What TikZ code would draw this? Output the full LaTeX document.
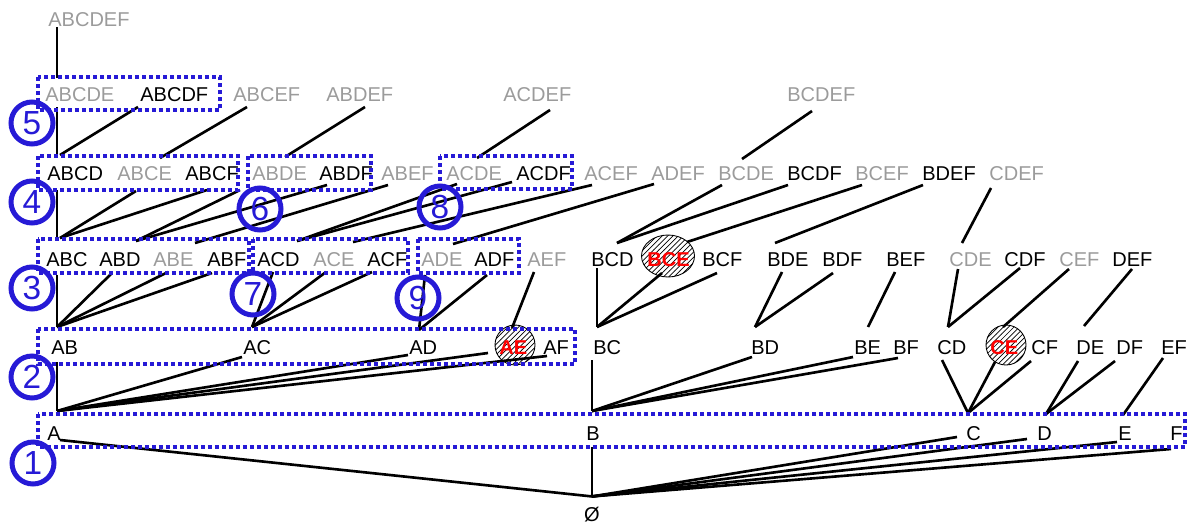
\documentclass[tikz,border=0pt]{standalone}
\usepackage{fontspec}
\setmainfont{Liberation Sans}
\usepackage{tikz}
\usetikzlibrary{calc}
\usetikzlibrary{patterns}
\usetikzlibrary{shapes.geometric}
\definecolor{boxColor}{RGB}{38,26,214}
\definecolor{prunedColor}{RGB}{155,155,155}
\definecolor{flagColor}{RGB}{255,0,0}

\begin{document}
\begin{tikzpicture}[x=0.02cm, y=-0.02cm]

            \tikzstyle{itemNode} = [anchor=west, inner sep=0pt, text height=8.2pt, text depth=0pt, font=\fontsize{11.4}{13}\selectfont];
            \tikzstyle{prunedNode} = [itemNode, prunedColor];
            \tikzstyle{flaggedNode} = [itemNode, flagColor, font=\fontsize{11.4}{13}\selectfont\bfseries];
            \tikzstyle{hatchMark} = [draw, line width=0.5pt, pattern=north east lines, inner sep=0pt];
            \tikzstyle{normalEdge} = [line width=1.5pt];
            \tikzstyle{groupBox} = [boxColor, line width=0.08cm, dash pattern=on 0.08cm off 0.06cm];
            \tikzstyle{stepCircle} = [shape=circle, draw=boxColor, line width=0.1cm, minimum size=0.84cm, inner sep=0pt, text=boxColor, font=\fontsize{19}{20}\selectfont];

            \useasboundingbox (0,0) rectangle (1192,524);

            % marks behind the flagged sets
            \node[hatchMark, ellipse, minimum width=1.06cm, minimum height=0.84cm] (BCEmark) at (668,256) {};
            \node[hatchMark, circle, minimum size=0.8cm] (AEmark) at (515,345) {};
            \node[hatchMark, circle, minimum size=0.8cm] (CEmark) at (1006,345) {};

            \node[prunedNode] (ABCDEF) at (48,19) {ABCDEF};

            \node[prunedNode] (ABCDE) at (45,94) {ABCDE};
            \node[itemNode] (ABCDF) at (140,94) {ABCDF};
            \node[prunedNode] (ABCEF) at (233,94) {ABCEF};
            \node[prunedNode] (ABDEF) at (326,94) {ABDEF};
            \node[prunedNode] (ACDEF) at (503,94) {ACDEF};
            \node[prunedNode] (BCDEF) at (787,94) {BCDEF};

            \node[itemNode] (ABCD) at (47,173) {ABCD};
            \node[prunedNode] (ABCE) at (117,173) {ABCE};
            \node[itemNode] (ABCF) at (185,173) {ABCF};
            \node[prunedNode] (ABDE) at (252,173) {ABDE};
            \node[itemNode] (ABDF) at (319,173) {ABDF};
            \node[prunedNode] (ABEF) at (381,173) {ABEF};
            \node[prunedNode] (ACDE) at (446,173) {ACDE};
            \node[itemNode] (ACDF) at (516,173) {ACDF};
            \node[prunedNode] (ACEF) at (584,173) {ACEF};
            \node[prunedNode] (ADEF) at (651,173) {ADEF};
            \node[prunedNode] (BCDE) at (718,173) {BCDE};
            \node[itemNode] (BCDF) at (787,173) {BCDF};
            \node[prunedNode] (BCEF) at (855,173) {BCEF};
            \node[itemNode] (BDEF) at (922,173) {BDEF};
            \node[prunedNode] (CDEF) at (989,173) {CDEF};

            \node[itemNode] (ABC) at (46,259) {ABC};
            \node[itemNode] (ABD) at (99,259) {ABD};
            \node[prunedNode] (ABE) at (153,259) {ABE};
            \node[itemNode] (ABF) at (207,259) {ABF};
            \node[itemNode] (ACD) at (257,259) {ACD};
            \node[prunedNode] (ACE) at (313,259) {ACE};
            \node[itemNode] (ACF) at (367,259) {ACF};
            \node[prunedNode] (ADE) at (421,259) {ADE};
            \node[itemNode] (ADF) at (474,259) {ADF};
            \node[prunedNode] (AEF) at (527,259) {AEF};
            \node[itemNode] (BCD) at (591,259) {BCD};
            \node[flaggedNode] (BCE) at (647,259) {BCE};
            \node[itemNode] (BCF) at (702,259) {BCF};
            \node[itemNode] (BDE) at (767,259) {BDE};
            \node[itemNode] (BDF) at (822,259) {BDF};
            \node[itemNode] (BEF) at (886,259) {BEF};
            \node[prunedNode] (CDE) at (949,259) {CDE};
            \node[itemNode] (CDF) at (1004,259) {CDF};
            \node[prunedNode] (CEF) at (1059,259) {CEF};
            \node[itemNode] (DEF) at (1112,259) {DEF};

            \node[itemNode] (AB) at (51,347) {AB};
            \node[itemNode] (AC) at (243,347) {AC};
            \node[itemNode] (AD) at (409,347) {AD};
            \node[flaggedNode] (AE) at (499,347) {AE};
            \node[itemNode] (AF) at (543,347) {AF};
            \node[itemNode] (BC) at (593,347) {BC};
            \node[itemNode] (BD) at (751,347) {BD};
            \node[itemNode] (BE) at (854,347) {BE};
            \node[itemNode] (BF) at (893,347) {BF};
            \node[itemNode] (CD) at (937,347) {CD};
            \node[flaggedNode] (CE) at (990,347) {CE};
            \node[itemNode] (CF) at (1031,347) {CF};
            \node[itemNode] (DE) at (1076,347) {DE};
            \node[itemNode] (DF) at (1116,347) {DF};
            \node[itemNode] (EF) at (1161,347) {EF};

            \node[itemNode] (A) at (47,433) {A};
            \node[itemNode] (B) at (586,433) {B};
            \node[itemNode] (C) at (966,433) {C};
            \node[itemNode] (D) at (1037,433) {D};
            \node[itemNode] (E) at (1118,433) {E};
            \node[itemNode] (F) at (1170,433) {F};

            \node[itemNode, anchor=center] (empty) at (592,514) {Ø};

            % level 6 to 4
            \draw[normalEdge] ($(ABCDEF.west)+(9,8)$) -- ($(ABCDE.west)+(12,-16)$);
            \draw[normalEdge] ($(ABCDE.west)+(12,13)$) -- ($(ABCD.west)+(10,-18)$);
            \draw[normalEdge] ($(ABCDF.west)+(-2,13)$) -- ($(ABCD.west)+(13,-18)$);
            \draw[normalEdge] ($(ABCEF.west)+(14,13)$) -- ($(ABCE.west)+(43,-15)$);
            \draw[normalEdge] ($(ABDEF.west)+(39,13)$) -- ($(ABDE.west)+(33,-16)$);
            \draw[normalEdge] ($(ACDEF.west)+(47,16)$) -- ($(ACDE.west)+(31,-15)$);
            \draw[normalEdge] ($(BCDEF.west)+(25,17)$) -- ($(BCDE.west)+(24,-14)$);

            % level 4 to 3
            \draw[normalEdge] ($(ABCD.west)+(10,17)$) -- ($(ABC.west)+(11,-21)$);
            \draw[normalEdge] ($(ABCE.west)+(19,18)$) -- ($(ABC.west)+(14,-21)$);
            \draw[normalEdge] ($(ABCF.west)+(22,17)$) -- ($(ABC.west)+(14,-21)$);
            \draw[normalEdge] ($(ABDE.west)+(-12,17)$) -- ($(ABD.west)+(37,-18)$);
            \draw[normalEdge] ($(ABDF.west)+(8,12)$) -- ($(ABD.west)+(37,-18)$);
            \draw[normalEdge] ($(ABEF.west)+(7,12)$) -- ($(ABE.west)+(42,-16)$);
            \draw[normalEdge] ($(ACDE.west)+(11,11)$) -- ($(ACD.west)+(40,-18)$);
            \draw[normalEdge] ($(ACDF.west)+(-4,9)$) -- ($(ACD.west)+(40,-18)$);
            \draw[normalEdge] ($(ACEF.west)+(8,12)$) -- ($(ACE.west)+(40,-17)$);
            \draw[normalEdge] ($(ADEF.west)+(3,11)$) -- ($(ADE.west)+(32,-15)$);
            \draw[normalEdge] ($(BCDE.west)+(4,12)$) -- ($(BCD.west)+(26,-16)$);
            \draw[normalEdge] ($(BCDF.west)+(1,12)$) -- ($(BCD.west)+(26,-16)$);
            \draw[normalEdge] ($(BCEF.west)+(7,12)$) -- ($(BCE.west)+(40,-17)$);
            \draw[normalEdge] ($(BDEF.west)+(1,12)$) -- ($(BDE.west)+(8,-16)$);
            \draw[normalEdge] ($(CDEF.west)+(2,15)$) -- ($(CDE.west)+(13,-16)$);

            % level 3 to 2
            \draw[normalEdge] ($(ABC.west)+(11,16)$) -- ($(AB.west)+(6,-20)$);
            \draw[normalEdge] ($(ABD.west)+(12,15)$) -- ($(AB.west)+(6,-20)$);
            \draw[normalEdge] ($(ABE.west)+(15,13)$) -- ($(AB.west)+(6,-20)$);
            \draw[normalEdge] ($(ABF.west)+(5,14)$) -- ($(AB.west)+(6,-20)$);
            \draw[normalEdge] ($(ACD.west)+(16,13)$) -- ($(AC.west)+(9,-20)$);
            \draw[normalEdge] ($(ACE.west)+(13,13)$) -- ($(AC.west)+(9,-20)$);
            \draw[normalEdge] ($(ACF.west)+(5,13)$) -- ($(AC.west)+(9,-20)$);
            \draw[normalEdge] ($(ADE.west)+(4,16)$) -- ($(AD.west)+(10,-17)$);
            \draw[normalEdge] ($(ADF.west)+(13,16)$) -- ($(AD.west)+(10,-17)$);
            \draw[normalEdge] ($(AEF.west)+(7,13)$) -- ($(AE.west)+(13,-19)$);
            \draw[normalEdge] ($(BCD.west)+(6,9)$) -- ($(BC.west)+(4,-20)$);
            \draw[normalEdge] ($(BCE.west)+(15,14)$) -- ($(BC.west)+(4,-20)$);
            \draw[normalEdge] ($(BCF.west)+(15,14)$) -- ($(BC.west)+(4,-20)$);
            \draw[normalEdge] ($(BDE.west)+(15,13)$) -- ($(BD.west)+(4,-20)$);
            \draw[normalEdge] ($(BDF.west)+(11,14)$) -- ($(BD.west)+(4,-20)$);
            \draw[normalEdge] ($(BEF.west)+(9,13)$) -- ($(BE.west)+(14,-20)$);
            \draw[normalEdge] ($(CDE.west)+(9,10)$) -- ($(CD.west)+(11,-20)$);
            \draw[normalEdge] ($(CDF.west)+(16,9)$) -- ($(CD.west)+(11,-20)$);
            \draw[normalEdge] ($(CEF.west)+(10,10)$) -- ($(CE.west)+(13,-20)$);
            \draw[normalEdge] ($(DEF.west)+(20,10)$) -- ($(DE.west)+(8,-21)$);

            % level 2 to 1
            \draw[normalEdge] ($(AB.west)+(6,15)$) -- ($(A.west)+(10,-22)$);
            \draw[normalEdge] ($(AC.west)+(-1,10)$) -- ($(A.west)+(10,-22)$);
            \draw[normalEdge] ($(AD.west)+(-1,8)$) -- ($(A.west)+(10,-22)$);
            \draw[normalEdge] ($(AE.west)+(-11,6)$) -- ($(A.west)+(10,-22)$);
            \draw[normalEdge] ($(AF.west)+(4,9)$) -- ($(A.west)+(10,-22)$);
            \draw[normalEdge] ($(BC.west)+(-1,13)$) -- ($(B.west)+(6,-22)$);
            \draw[normalEdge] ($(BD.west)+(1,10)$) -- ($(B.west)+(6,-22)$);
            \draw[normalEdge] ($(BE.west)+(-1,10)$) -- ($(B.west)+(6,-22)$);
            \draw[normalEdge] ($(BF.west)+(5,11)$) -- ($(B.west)+(6,-22)$);
            \draw[normalEdge] ($(CD.west)+(5,13)$) -- ($(C.west)+(2,-20)$);
            \draw[normalEdge] ($(CE.west)+(5,15)$) -- ($(C.west)+(2,-20)$);
            \draw[normalEdge] ($(CF.west)+(0,14)$) -- ($(C.west)+(2,-20)$);
            \draw[normalEdge] ($(DE.west)+(2,14)$) -- ($(D.west)+(9,-19)$);
            \draw[normalEdge] ($(DF.west)+(-1,14)$) -- ($(D.west)+(9,-19)$);
            \draw[normalEdge] ($(EF.west)+(2,11)$) -- ($(E.west)+(5,-18)$);

            % level 1 to the empty set
            \draw[normalEdge] ($(A.west)+(13,7)$) -- ($(empty.north)+(0,-10)$);
            \draw[normalEdge] ($(B.west)+(6,14)$) -- ($(empty.north)+(0,-10)$);
            \draw[normalEdge] ($(C.west)+(-9,4)$) -- ($(empty.north)+(0,-10)$);
            \draw[normalEdge] ($(D.west)+(-10,6)$) -- ($(empty.north)+(0,-10)$);
            \draw[normalEdge] ($(E.west)+(-1,9)$) -- ($(empty.north)+(0,-10)$);
            \draw[normalEdge] ($(F.west)+(1,16)$) -- ($(empty.north)+(0,-10)$);

            % groups
            \draw[groupBox] (38,77) rectangle (220,110);
            \draw[groupBox] (38,156) rectangle (238,190);
            \draw[groupBox] (248,156) rectangle (371,190);
            \draw[groupBox] (440,156) rectangle (572,189);
            \draw[groupBox] (38,239) rectangle (249,273);
            \draw[groupBox] (253,239) rectangle (408,273);
            \draw[groupBox] (418,239) rectangle (519,273);
            \draw[groupBox] (38,329) rectangle (575,364);
            \draw[groupBox] (38,414) rectangle (1185,447);

            \node[stepCircle] (n1) at (33,463) {1};
            \node[stepCircle] (n2) at (32,377) {2};
            \node[stepCircle] (n3) at (32,288) {3};
            \node[stepCircle] (n4) at (32,202) {4};
            \node[stepCircle] (n5) at (32,123) {5};
            \node[stepCircle] (n6) at (260,209) {6};
            \node[stepCircle] (n7) at (253,294) {7};
            \node[stepCircle] (n8) at (440,207) {8};
            \node[stepCircle] (n9) at (418,298) {9};
\end{tikzpicture}
\end{document}
